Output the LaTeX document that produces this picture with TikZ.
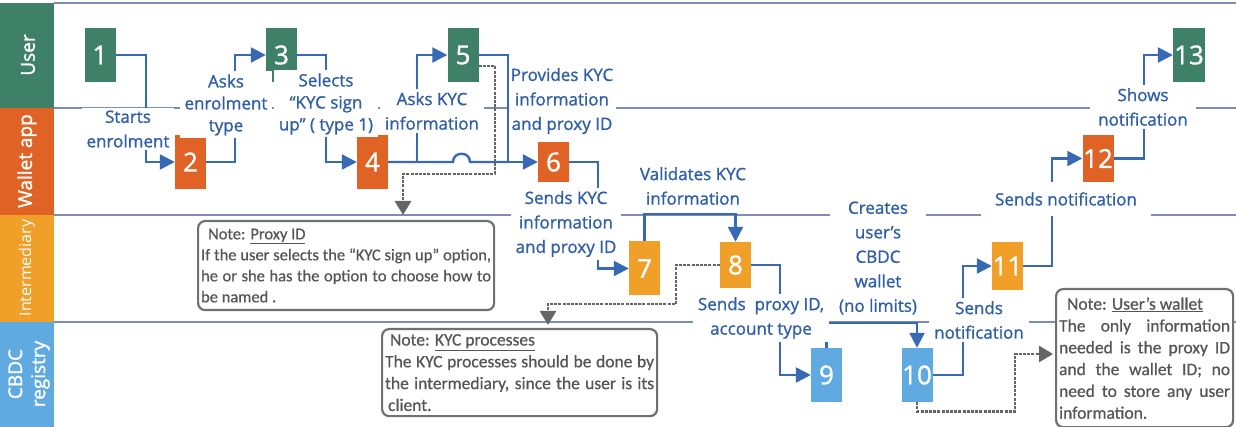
\documentclass[tikz,border=0pt]{standalone}
\usepackage{fontspec}
\setmainfont{Open Sans}
\newfontfamily\lblfont{Open Sans}[FakeBold=1.1]
\newfontfamily\numfont{Open Sans}[FakeBold=1.2]
\newfontfamily\lanefont{Open Sans}[FakeBold=1.5]
\newfontfamily\notefont{Carlito}[FakeBold=0.6]
\usetikzlibrary{arrows.meta}
\definecolor{cgreen}{RGB}{63,128,104}
\definecolor{corange}{RGB}{224,98,36}
\definecolor{cgold}{RGB}{240,160,40}
\definecolor{cblue}{RGB}{95,170,225}
\definecolor{tblue}{RGB}{46,95,168}
\definecolor{lblue}{RGB}{55,105,180}
\definecolor{laneline}{RGB}{125,140,180}
\definecolor{ngray}{RGB}{85,85,85}
\definecolor{dgray}{RGB}{112,112,112}
\begin{document}
\begin{tikzpicture}[x=1pt,y=-1pt,
  stepbox/.style={rectangle, inner sep=0pt, minimum width=31pt, minimum height=54pt, text=white, font=\numfont\fontsize{26}{26}\selectfont},
  lanetxt/.style={text=white, rotate=90, align=center, font=\lanefont\fontsize{19}{23}\selectfont},
  lbl/.style={text=tblue, fill=white, align=center, inner xsep=5pt, inner ysep=3pt, font=\lblfont\fontsize{17}{24.5}\selectfont},
  tight/.style={font=\lblfont\fontsize{17}{22}\selectfont},
  conn/.style={draw=lblue, line width=2.4pt, -{Triangle[length=15pt,width=15pt]}},
  plainc/.style={draw=lblue, line width=2.4pt},
  note/.style={draw=dgray, line width=2.2pt, rounded corners=7pt, fill=white, text=ngray, align=flush left, anchor=north west, inner xsep=3pt, inner ysep=2pt, font=\notefont\fontsize{17.5}{21.8}\selectfont},
  dotc/.style={draw=dgray!90!black, line width=2.8pt, dash pattern=on 3pt off 1.2pt, -{Triangle[length=14pt,width=16pt]}},
  sepline/.style={draw=laneline, line width=1.1pt}]
\useasboundingbox (0,0) rectangle (1236,427);
\fill[white] (0,0) rectangle (1236,427);
% lanes
\fill[cgreen] (0,3) rectangle (54,108);
\fill[corange] (0,108) rectangle (54,215);
\fill[cgold] (0,215) rectangle (54,322);
\fill[cblue] (0,322) rectangle (54,427);
\node[lanetxt] (lu) at (28,55) {User};
\node[lanetxt] (lw) at (27,161) {Wallet app};
\node[lanetxt, font=\fontsize{16}{20}\selectfont] (li) at (27,268) {Intermediary};
\node[lanetxt] (lc) at (29,374) {CBDC\\registry};
\draw[sepline] (54,3) -- (1236,3);
\draw[sepline] (54,108) -- (1236,108);
\draw[sepline] (54,215) -- (1236,215);
\draw[sepline] (54,322) -- (1236,322);
% steps
\node[stepbox, fill=cgreen] (n1) at (100,55) {1};
\node[stepbox, fill=corange] (n2) at (190.5,162) {2};
\node[stepbox, fill=cgreen] (n3) at (281.5,55) {3};
\node[stepbox, fill=corange] (n4) at (372.5,162) {4};
\node[stepbox, fill=cgreen] (n5) at (463,55) {5};
\node[stepbox, fill=corange, minimum height=40pt] (n6) at (553.5,162) {6};
\node[stepbox, fill=cgold] (n7) at (644.5,268.5) {7};
\node[stepbox, fill=cgold, minimum height=46pt] (n8) at (735.5,265) {8};
\node[stepbox, fill=cblue] (n9) at (826.5,375) {9};
\node[stepbox, fill=cblue] (n10) at (917,375) {10};
\node[stepbox, fill=cgold, minimum height=48pt] (n11) at (1007.5,266) {11};
\node[stepbox, fill=corange, minimum height=47pt] (n12) at (1098,158.5) {12};
\node[stepbox, fill=cgreen, minimum width=32pt] (n13) at (1189,55) {13};
% notes
\node[note, font=\notefont\fontsize{16.5}{21}\selectfont, text width=290pt, minimum width=296pt, minimum height=89pt] (np) at (197,220) {%
{\hspace*{7pt}Note: \underline{Proxy ID}}\\
\makebox[290pt][s]{If the user selects the “KYC sign up” option,}\\
\makebox[290pt][s]{he or she has the option to choose how to}\\
be named .};
\node[note, text width=269pt, minimum width=275pt, minimum height=87pt] (nk) at (381,328) {%
{\hspace*{5pt}Note: \underline{KYC processes}}\\
\makebox[269pt][s]{The KYC processes should be done by}\\
\makebox[269pt][s]{the intermediary, since the user is its}\\
\hspace*{3pt}client.};
\node[note, text width=171pt, minimum width=177pt, minimum height=138pt] (nw) at (1055,288) {%
{\hspace*{8pt}Note: \underline{User’s wallet}}\\
\makebox[171pt][s]{The only information}\\
\makebox[171pt][s]{needed is the proxy ID}\\
\makebox[171pt][s]{and the wallet ID; no}\\
\makebox[171pt][s]{need to store any user}\\
information.};
% label placed under connector
\node[lbl, inner xsep=3pt] (t5) at (562,101) {Provides KYC\\information\\and proxy ID};
% connectors
\coordinate (j56) at (508,162);
\draw[conn] (n1.east) -- ++(30,0) |- (n2.west);
\draw[conn] (n2.east) -- ++(29,0) |- (n3.west);
\draw[conn] (n3.east) -- ++(29,0) |- (n4.west);
\draw[conn] (n4.east) -- ++(29,0) |- (n5.west);
\draw[plainc] (n4.east) -- (453,162) .. controls (453,151) and (470,151) .. (470,162) -- (j56);
\draw[conn] (n5.east) -| (j56) -- (n6.west);
\draw[conn] (n6.east) -- ++(29,0) |- (n7.west);
\draw[conn] (n7.north) -- ++(0,-27) -| (n8.north);
\draw[conn] (n8.east) -- ++(29,0) |- (n9.west);
\draw[conn] (n9.north) -- ++(0,-25) -| (n10.north);
\draw[conn] (n10.east) -- ++(30,0) |- (n11.west);
\draw[conn] (n11.east) -- ++(29,0) |- (n12.west);
\draw[conn] (n12.east) -- ++(30,0) |- (n13.west);
% note connectors
\coordinate (g1c) at (403,174);
\coordinate (g2c) at (548,304);
\coordinate (g3c) at (1015,354);
\draw[dotc, shorten >=5pt] ([yshift=-11pt]n5.east) -| (495,174) -- (g1c) -- (g1c |- np.north);
\draw[dotc, shorten >=3pt] (n8.west) -| (676,304) -- (g2c) -- (g2c |- nk.north);
\draw[dotc, shorten >=2pt] (n10.south) -- ++(0,9) -| (g3c) -- (g3c -| nw.west);
% labels
\node[lbl] (t1) at (128,129) {Starts\\enrolment};
\node[lbl, tight] (t2) at (226,105) {Asks\\enrolment\\type};
\node[lbl, tight] (t3) at (326,104) {Selects\\“KYC sign\\up” ( type 1)};
\node[lbl] (t4) at (432,111) {Asks KYC\\information};
\node[lbl] (t6) at (566,224) {Sends KYC\\information\\and proxy ID};
\node[lbl, fill=none] (t7) at (693,186) {Validates KYC\\information};
\node[lbl] (t8) at (761,318) {Sends~ proxy ID,\\account type};
\node[lbl, inner xsep=9pt] (t9) at (878,258) {Creates\\user’s\\CBDC\\wallet\\(no limits)};
\node[lbl] (t10) at (979,320) {Sends\\notification};
\node[lbl, inner xsep=14pt, minimum height=34pt] (t11) at (1066,199) {Sends notification};
\node[lbl, inner xsep=8pt] (t12) at (1143,107) {Shows\\notification};
\end{tikzpicture}
\end{document}
